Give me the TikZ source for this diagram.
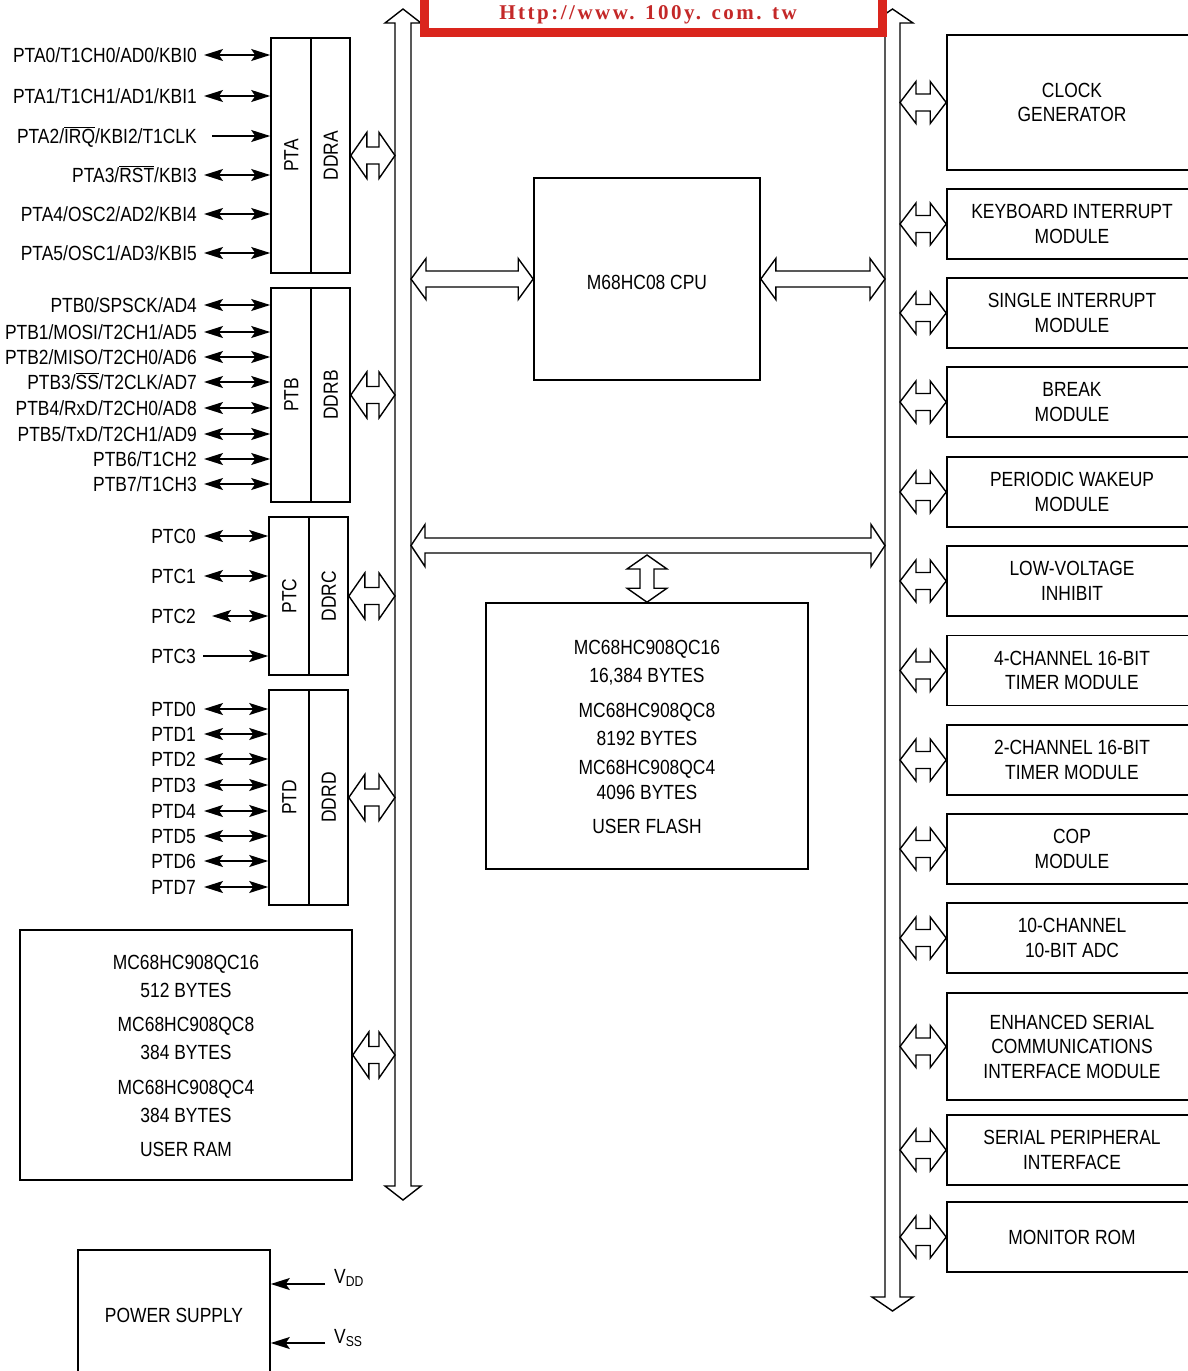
\documentclass[tikz,border=0pt]{standalone}
\usepackage{fontspec}
\setmainfont{Liberation Sans}[FakeStretch=0.85]
\newfontfamily\urlfont{Liberation Serif}[LetterSpace=12]
\usetikzlibrary{arrows.meta,calc}
\definecolor{redbox}{RGB}{218,37,29}
\definecolor{redtext}{RGB}{196,40,40}
\newcommand{\hdarrow}[5]{%
 \draw[hollow] (#1) -- ($(#1)+(#5,-#4)$) -- ($(#1)+(#5,-#3)$) -- ($(#2)+(-#5,-#3)$) -- ($(#2)+(-#5,-#4)$) -- (#2) -- ($(#2)+(-#5,#4)$) -- ($(#2)+(-#5,#3)$) -- ($(#1)+(#5,#3)$) -- ($(#1)+(#5,#4)$) -- cycle;}
\newcommand{\vdarrow}[5]{%
 \draw[hollow] (#1) -- ($(#1)+(-#4,#5)$) -- ($(#1)+(-#3,#5)$) -- ($(#2)+(-#3,-#5)$) -- ($(#2)+(-#4,-#5)$) -- (#2) -- ($(#2)+(#4,-#5)$) -- ($(#2)+(#3,-#5)$) -- ($(#1)+(#3,#5)$) -- ($(#1)+(#4,#5)$) -- cycle;}
\begin{document}
\begin{tikzpicture}[x=1pt,y=-1pt,
  every node/.style={inner sep=0pt, font=\fontsize{20.5}{24.5}\selectfont},
  blk/.style={draw, line width=1.6pt, fill=white},
  txt/.style={text height=14.5pt, text depth=0pt},
  lbl/.style={txt, anchor=east},
  hollow/.style={draw, line width=1.4pt, line join=miter},
  bi/.style={line width=1.6pt, {Stealth[length=19pt,width=12pt,inset=4pt]}-{Stealth[length=19pt,width=12pt,inset=4pt]}},
  inarrow/.style={line width=1.6pt, -{Stealth[length=19pt,width=12pt,inset=4pt]}}]
\useasboundingbox (0,0) rectangle (1188,1371);
\clip (0,0) rectangle (1188,1371);
\fill[white] (0,0) rectangle (1188,1371);

% buses
\coordinate (lbtop) at (403,9); \coordinate (lbbot) at (403,1200);
\coordinate (rbtop) at (892.5,9); \coordinate (rbbot) at (892.5,1311);
\coordinate (lbL) at (395,0); \coordinate (lbR) at (411,0);
\coordinate (rbL) at (885,0); \coordinate (rbR) at (900,0);
\vdarrow{lbtop}{lbbot}{8}{18}{14}
\vdarrow{rbtop}{rbbot}{7.5}{20.5}{14}

% header box
\node[draw=redbox, line width=9pt, fill=white, minimum width=458pt, minimum height=69pt] (hdr) at (653.5,-2) {};
\node[text=redtext, font=\urlfont\bfseries\fontsize{21}{21}\selectfont, anchor=base] (url) at (648,19) {Http://www. 100y. com. tw};

% CPU
\node[blk, minimum width=226pt, minimum height=202pt, text height=14.5pt, text depth=0pt] (cpu) at (647,279) {};
\node[txt] (cpuT) at (647,282) {M68HC08 CPU};
\hdarrow{cpu.west -| lbR}{cpu.west}{8}{20.5}{15}
\hdarrow{cpu.east}{cpu.east -| rbL}{8}{20.5}{15}

% internal bus
\coordinate (ibl) at (411,545.5); \coordinate (ibr) at (885,545.5);
\hdarrow{ibl}{ibr}{7.5}{21}{14}

% flash
\node[blk, minimum width=322pt, minimum height=266pt] (flash) at (647,736) {};
\coordinate (ibv) at (647,555);
\vdarrow{ibv}{flash.north}{7}{20}{14}
\node[txt] (f1) at (647,647) {MC68HC908QC16};
\node[txt] (f2) at (647,675) {16,384 BYTES};
\node[txt] (f3) at (647,710) {MC68HC908QC8};
\node[txt] (f4) at (647,738) {8192 BYTES};
\node[txt] (f5) at (647,767) {MC68HC908QC4};
\node[txt] (f6) at (647,792) {4096 BYTES};
\node[txt] (f7) at (647,826) {USER FLASH};

% port A
\node[blk, minimum width=40pt, minimum height=235pt] (pta) at (291,155.5) {};
\node[blk, minimum width=39pt, minimum height=235pt] (ddra) at (330.5,155.5) {};
\node[txt, rotate=90] (ptaT) at (pta) {PTA};
\node[txt, rotate=90] (ddraT) at (ddra) {DDRA};
\hdarrow{ddra.east}{ddra.east -| lbL}{8.5}{23}{16}
\node[lbl] (pa0) at (197,55) {PTA0/T1CH0/AD0/KBI0};
\node[lbl] (pa1) at (197,96) {PTA1/T1CH1/AD1/KBI1};
\node[lbl] (pa2) at (197,136) {PTA2/$\overline{\mbox{IRQ}}$/KBI2/T1CLK};
\node[lbl] (pa3) at (197,175) {PTA3/$\overline{\mbox{RST}}$/KBI3};
\node[lbl] (pa4) at (197,214) {PTA4/OSC2/AD2/KBI4};
\node[lbl] (pa5) at (197,253) {PTA5/OSC1/AD3/KBI5};
\draw[bi] ([xshift=7pt]pa0.east) -- (pa0.east -| pta.west);
\draw[bi] ([xshift=7pt]pa1.east) -- (pa1.east -| pta.west);
\draw[inarrow] ([xshift=15pt]pa2.east) -- (pa2.east -| pta.west);
\draw[bi] ([xshift=7pt]pa3.east) -- (pa3.east -| pta.west);
\draw[bi] ([xshift=7pt]pa4.east) -- (pa4.east -| pta.west);
\draw[bi] ([xshift=7pt]pa5.east) -- (pa5.east -| pta.west);

% port B
\node[blk, minimum width=40pt, minimum height=214pt] (ptb) at (291,395) {};
\node[blk, minimum width=39pt, minimum height=214pt] (ddrb) at (330.5,395) {};
\node[txt, rotate=90] (ptbT) at (ptb) {PTB};
\node[txt, rotate=90] (ddrbT) at (ddrb) {DDRB};
\hdarrow{ddrb.east}{ddrb.east -| lbL}{8.5}{23}{16}
\node[lbl] (pb0) at (197,305) {PTB0/SPSCK/AD4};
\node[lbl] (pb1) at (197,332) {PTB1/MOSI/T2CH1/AD5};
\node[lbl] (pb2) at (197,357) {PTB2/MISO/T2CH0/AD6};
\node[lbl] (pb3) at (197,382) {PTB3/$\overline{\mbox{SS}}$/T2CLK/AD7};
\node[lbl] (pb4) at (197,408) {PTB4/RxD/T2CH0/AD8};
\node[lbl] (pb5) at (197,434) {PTB5/TxD/T2CH1/AD9};
\node[lbl] (pb6) at (197,459) {PTB6/T1CH2};
\node[lbl] (pb7) at (197,484) {PTB7/T1CH3};
\foreach \p in {pb0,pb1,pb2,pb3,pb4,pb5,pb6,pb7}
  \draw[bi] ([xshift=7pt]\p.east) -- (\p.east -| ptb.west);

% port C
\node[blk, minimum width=40pt, minimum height=158pt] (ptc) at (289,596) {};
\node[blk, minimum width=39pt, minimum height=158pt] (ddrc) at (328.5,596) {};
\node[txt, rotate=90] (ptcT) at (ptc) {PTC};
\node[txt, rotate=90] (ddrcT) at (ddrc) {DDRC};
\hdarrow{ddrc.east}{ddrc.east -| lbL}{8.5}{23}{16}
\node[lbl] (pc0) at (196,536) {PTC0};
\node[lbl] (pc1) at (196,576) {PTC1};
\node[lbl] (pc2) at (196,616) {PTC2};
\node[lbl] (pc3) at (196,656) {PTC3};
\draw[bi] ([xshift=8pt]pc0.east) -- (pc0.east -| ptc.west);
\draw[bi] ([xshift=8pt]pc1.east) -- (pc1.east -| ptc.west);
\draw[bi] ([xshift=16pt]pc2.east) -- (pc2.east -| ptc.west);
\draw[inarrow] ([xshift=7pt]pc3.east) -- (pc3.east -| ptc.west);

% port D
\node[blk, minimum width=40pt, minimum height=215pt] (ptd) at (289,797.5) {};
\node[blk, minimum width=39pt, minimum height=215pt] (ddrd) at (328.5,797.5) {};
\node[txt, rotate=90] (ptdT) at (ptd) {PTD};
\node[txt, rotate=90] (ddrdT) at (ddrd) {DDRD};
\hdarrow{ddrd.east}{ddrd.east -| lbL}{8.5}{23}{16}
\node[lbl] (pd0) at (196,709) {PTD0};
\node[lbl] (pd1) at (196,734) {PTD1};
\node[lbl] (pd2) at (196,759) {PTD2};
\node[lbl] (pd3) at (196,785) {PTD3};
\node[lbl] (pd4) at (196,811) {PTD4};
\node[lbl] (pd5) at (196,836) {PTD5};
\node[lbl] (pd6) at (196,861) {PTD6};
\node[lbl] (pd7) at (196,887) {PTD7};
\foreach \p in {pd0,pd1,pd2,pd3,pd4,pd5,pd6,pd7}
  \draw[bi] ([xshift=8pt]\p.east) -- (\p.east -| ptd.west);

% RAM
\node[blk, minimum width=332pt, minimum height=250pt] (ram) at (186,1055) {};
\hdarrow{ram.east}{ram.east -| lbL}{8.5}{23}{16}
\node[txt] (r1) at (186,962) {MC68HC908QC16};
\node[txt] (r2) at (186,990) {512 BYTES};
\node[txt] (r3) at (186,1024) {MC68HC908QC8};
\node[txt] (r4) at (186,1052) {384 BYTES};
\node[txt] (r5) at (186,1087) {MC68HC908QC4};
\node[txt] (r6) at (186,1115) {384 BYTES};
\node[txt] (r7) at (186,1149) {USER RAM};

% power supply
\node[blk, minimum width=192pt, minimum height=130pt] (ps) at (174,1315) {POWER SUPPLY};
\coordinate (vddin) at (325,1284); \coordinate (vssin) at (325,1343);
\draw[inarrow] (vddin) -- (vddin -| ps.east);
\draw[inarrow] (vssin) -- (vssin -| ps.east);
\node[txt, anchor=west] (vdd) at (334,1276) {V\textsubscript{DD}};
\node[txt, anchor=west] (vss) at (334,1336) {V\textsubscript{SS}};

% right modules
\foreach \n/\y/\h/\t in {
  clk/102.5/135/{CLOCK\\GENERATOR},
  kbi/224/70/{KEYBOARD INTERRUPT\\MODULE},
  sim/313/70/{SINGLE INTERRUPT\\MODULE},
  brk/402/70/{BREAK\\MODULE},
  pwu/492/70/{PERIODIC WAKEUP\\MODULE},
  lvi/581/70/{LOW-VOLTAGE\\INHIBIT},
  tima/670.5/70/{4-CHANNEL 16-BIT\\TIMER MODULE},
  timb/760/70/{2-CHANNEL 16-BIT\\TIMER MODULE},
  cop/849/70/{COP\\MODULE},
  adc/938/70/{10-CHANNEL\\10-BIT ADC},
  esci/1046.5/107/{ENHANCED SERIAL\\COMMUNICATIONS\\INTERFACE MODULE},
  spi/1150/70/{SERIAL PERIPHERAL\\INTERFACE},
  mon/1237/70/{MONITOR ROM}}{
  \node[blk, align=center, minimum width=250pt, minimum height=\h pt] (\n) at (1072,\y) {\t};
  \hdarrow{\n.west -| rbR}{\n.west}{8.5}{21}{16}
}
\end{tikzpicture}
\end{document}
